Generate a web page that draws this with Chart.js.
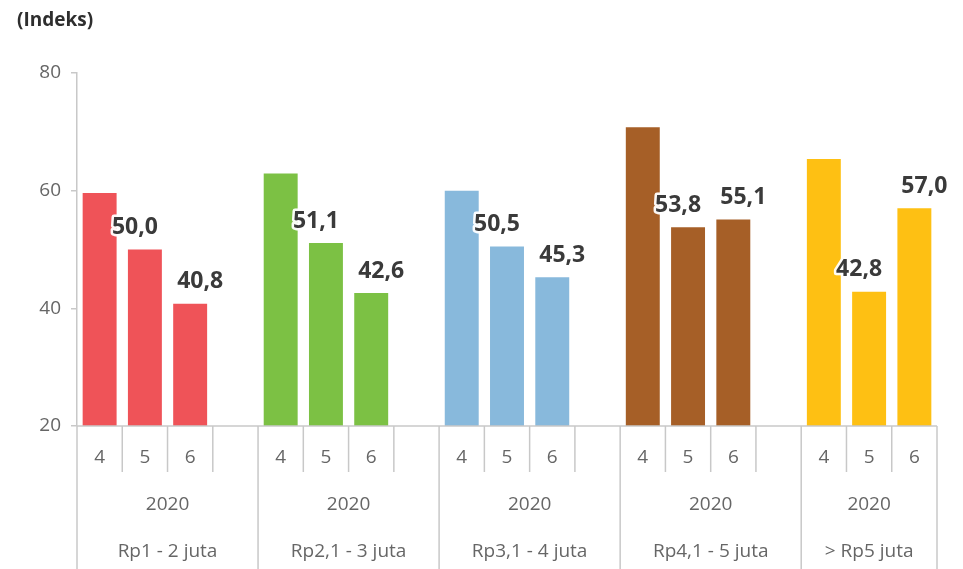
<!DOCTYPE html>
<html>
<head>
<meta charset="utf-8">
<script src="https://cdn.jsdelivr.net/npm/chart.js@4"></script>
<style>
  html, body { margin: 0; padding: 0; background: #fff; }
  #wrap { width: 963px; height: 569px; position: relative; }
</style>
</head>
<body>
<div id="wrap"><canvas id="chart"></canvas></div>
<script>
// data
const groups = ["Rp1 - 2 juta", "Rp2,1 - 3 juta", "Rp3,1 - 4 juta", "Rp4,1 - 5 juta", "> Rp5 juta"];
const months = ["4", "5", "6"];
const year = "2020";
const rp1to2 = [59.6, 50.0, 40.8];
const rp2to3 = [62.9, 51.1, 42.6];
const rp3to4 = [60.0, 50.5, 45.3];
const rp4to5 = [70.8, 53.8, 55.1];
const rpOver5 = [65.4, 42.8, 57.0];
const yTicks = [20, 40, 60, 80];

const groupValues = [rp1to2, rp2to3, rp3to4, rp4to5, rpOver5];
const groupColors = ["#EF5358", "#7CC144", "#88B9DC", "#A65F27", "#FEC013"];

// flatten into slots: 4,5,6 + empty spacer between groups
const labels = [];
const values = [];
const colors = [];
const slotMonth = [];   // index of month within group, -1 for spacer
const slotGroup = [];
groupValues.forEach((vals, g) => {
  months.forEach((m, i) => {
    labels.push(m);
    values.push(vals[i]);
    colors.push(groupColors[g]);
    slotMonth.push(i);
    slotGroup.push(g);
  });
  if (g < groupValues.length - 1) {
    labels.push("");
    values.push(null);
    colors.push("rgba(0,0,0,0)");
    slotMonth.push(-1);
    slotGroup.push(g);
  }
});

const lineColor = "#c8c8c8";
const textColor = "#666";

const axisPlugin = {
  id: "groupAxis",
  afterDraw(chart) {
    const { ctx, chartArea } = chart;
    const x = chart.scales.x;
    const slotW = x.getPixelForValue(1) - x.getPixelForValue(0);
    const base = chartArea.bottom;
    ctx.save();
    ctx.strokeStyle = lineColor;
    ctx.lineWidth = 1.5;
    // base line
    ctx.beginPath();
    ctx.moveTo(chartArea.left, base);
    ctx.lineTo(chartArea.right, base);
    ctx.stroke();

    ctx.fillStyle = textColor;
    ctx.font = "19px 'Open Sans'";
    ctx.textAlign = "center";
    ctx.textBaseline = "middle";

    labels.forEach((lab, i) => {
      const cx = x.getPixelForValue(i);
      const left = cx - slotW / 2;
      if (lab) ctx.fillText(lab, cx, base + 32);
      // separator on the left edge of each slot
      const isGroupStart = slotMonth[i] === 0;
      ctx.beginPath();
      ctx.moveTo(left, base);
      ctx.lineTo(left, isGroupStart ? chart.height : base + 46);
      ctx.stroke();
    });
    // closing line at the right end
    ctx.beginPath();
    ctx.moveTo(chartArea.right, base);
    ctx.lineTo(chartArea.right, chart.height);
    ctx.stroke();

    // year + group name rows
    groups.forEach((name, g) => {
      const first = slotGroup.indexOf(g);
      const left = x.getPixelForValue(first) - slotW / 2;
      const right = g < groups.length - 1 ? left + slotW * 4 : chartArea.right;
      const cx = (left + right) / 2;
      ctx.fillText(year, cx, base + 79);
      ctx.fillText(name, cx, base + 126);
    });

    // axis title
    ctx.fillStyle = "#2e2e2e";
    ctx.font = "bold 19px 'Open Sans'";
    ctx.textAlign = "left";
    ctx.fillText("(Indeks)", 17, 21);
    ctx.restore();
  }
};

const valueLabels = {
  id: "valueLabels",
  afterDatasetsDraw(chart) {
    const { ctx } = chart;
    const meta = chart.getDatasetMeta(0);
    ctx.save();
    ctx.font = "bold 23px 'Open Sans'";
    ctx.textAlign = "center";
    ctx.textBaseline = "middle";
    ctx.lineJoin = "round";
    meta.data.forEach((bar, i) => {
      const m = slotMonth[i];
      if (m < 1 || values[i] == null) return;
      const txt = values[i].toFixed(1).replace(".", ",");
      const dx = m === 1 ? -10 : 10;
      const px = bar.x + dx;
      const py = bar.y - 22;
      ctx.strokeStyle = "rgba(255,255,255,0.95)";
      ctx.lineWidth = 5;
      ctx.strokeText(txt, px, py);
      ctx.fillStyle = "#3a3a3a";
      ctx.fillText(txt, px, py);
    });
    ctx.restore();
  }
};

new Chart(document.getElementById("chart").getContext("2d"), {
  type: "bar",
  data: {
    labels: labels,
    datasets: [{
      data: values,
      backgroundColor: colors,
      borderWidth: 0,
      barPercentage: 0.75,
      categoryPercentage: 1.0,
    }],
  },
  options: {
    responsive: true,
    maintainAspectRatio: false,
    animation: false,
    layout: { padding: { top: 73, bottom: 143, left: 0, right: 26 } },
    plugins: {
      legend: { display: false },
      tooltip: { enabled: false },
    },
    scales: {
      x: { display: false },
      y: {
        min: yTicks[0],
        max: yTicks[yTicks.length - 1],
        afterBuildTicks(scale) {
          scale.ticks = yTicks.map((v) => ({ value: v }));
        },
        afterFit(scale) { scale.width = 77; },
        border: { display: true, color: lineColor, width: 1.5 },
        grid: { drawOnChartArea: false, tickLength: 6, color: lineColor, lineWidth: 1.5 },
        ticks: {
          padding: 10,
          color: textColor,
          font: { family: "'Open Sans'", size: 19 },
        },
      },
    },
  },
  plugins: [axisPlugin, valueLabels],
});
</script>
</body>
</html>
